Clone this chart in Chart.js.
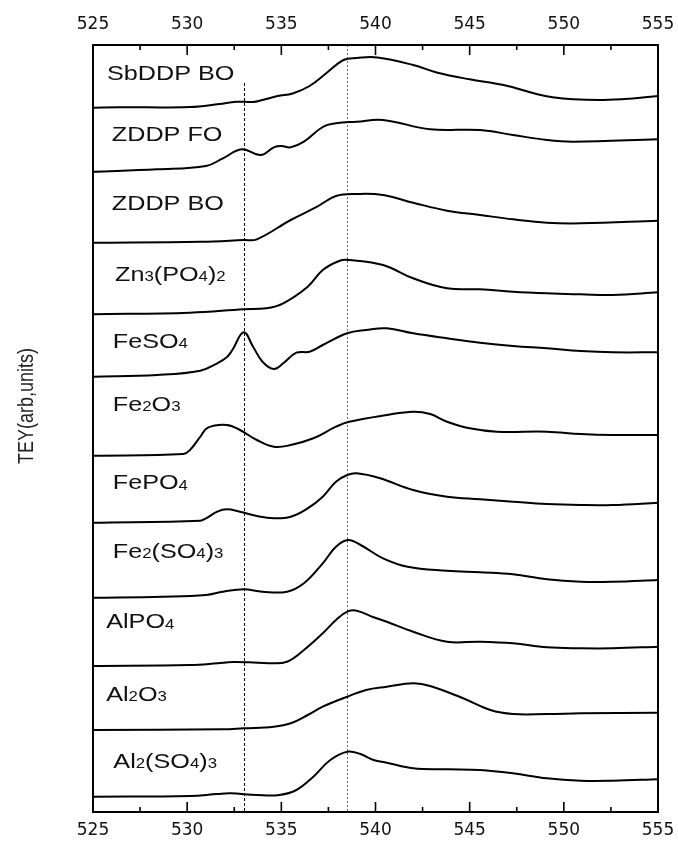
<!DOCTYPE html>
<html><head><meta charset="utf-8">
<script src="https://cdn.jsdelivr.net/npm/chart.js@4.4.1/dist/chart.umd.min.js"></script>
<style>html,body{margin:0;padding:0;background:#fff}</style>
</head><body>
<canvas id="c" width="678" height="842"></canvas>
<script>
// ---- data (energy in eV, TEY in arbitrary offset units) ----
const xTicks = [525, 530, 535, 540, 545, 550, 555];
const yTitle = 'TEY(arb,units)';
const refLinesEnergy = [533, 538.5];
const refLinesTop = [729, 767];

const e_SbDDP_BO = [525, 526.4, 530.15, 531.7, 532.6, 533.5, 534, 534.8, 535.6, 536.5, 537.4, 538.3, 539, 540.1, 542, 543.3, 545, 546.8, 548.6, 549.4, 550.5, 552.1, 553.5, 555];
const tey_SbDDP_BO = [704.3, 704.7, 705, 708, 710.3, 710, 712, 716, 718.5, 726, 739, 752, 754, 754.5, 747, 739.3, 732.7, 727, 717.7, 714.7, 712.7, 712, 713.3, 716];

const e_ZDDP_FO = [525, 528.4, 531, 531.9, 532.9, 533.9, 534.6, 535, 535.5, 536.2, 537.2, 537.9, 539, 540.4, 542.9, 545.55, 547.3, 549.1, 550.5, 555];
const tey_ZDDP_FO = [640.3, 642.7, 646, 653.7, 662.7, 657, 664.7, 666, 664.7, 670.3, 685, 688.7, 690.3, 692, 682.7, 682, 677, 672, 670.3, 672.7];

const e_ZDDP_BO = [525, 530.7, 533, 533.7, 535.5, 536.9, 537.9, 539, 540.4, 542, 543.8, 545.55, 547.3, 549.1, 550.9, 555];
const tey_ZDDP_BO = [569.3, 570.3, 572, 572.7, 592, 605.3, 616, 618, 617, 609.3, 601.3, 597, 592.7, 589.3, 588.7, 591.3];

const e_Zn3PO42 = [525, 530.15, 533, 534.2, 535.1, 536.4, 537.2, 538.1, 538.6, 540.4, 542, 543.8, 545.55, 547.3, 549.1, 550.9, 552.6, 555];
const tey_Zn3PO42 = [497.7, 499.3, 502.7, 503.7, 508.7, 525.3, 542, 551.3, 552, 547, 533.7, 523.7, 522.7, 520.3, 518.7, 517.7, 517, 519.7];

const e_FeSO4 = [525, 528.4, 530.7, 531.6, 532.1, 532.4, 533, 533.5, 534, 534.6, 535.1, 535.8, 536.5, 537.2, 538.5, 539.5, 540.6, 542, 543.8, 545.55, 547.3, 549.1, 550.9, 552.6, 555];
const tey_FeSO4 = [435.3, 437, 441.3, 448.7, 454.7, 462, 479.7, 465.3, 450.3, 443, 448.7, 459.3, 460.3, 467, 478.7, 482, 483.7, 478.7, 473.7, 469.3, 466, 463.7, 461, 459.7, 459.7];

const e_Fe2O3 = [525, 529.8, 530.15, 530.7, 531.1, 532.1, 532.8, 533.7, 534.6, 535.5, 536.7, 537.9, 538.6, 540.6, 542, 542.9, 543.8, 545, 546.45, 549.1, 550.9, 552.6, 555];
const tey_Fe2O3 = [356.3, 358, 362, 375.3, 384.3, 387, 382, 372, 365.3, 367, 373.7, 385.3, 390.3, 397, 400.3, 398, 390.3, 383.7, 380.3, 380.3, 378, 377, 377];

const e_FePO4 = [525, 530.7, 531, 531.6, 532.1, 532.8, 533.7, 534.6, 535.5, 536.4, 537.2, 537.9, 538.5, 539, 540.2, 542, 543.8, 545.55, 547.3, 549.1, 550.9, 552.6, 555];
const tey_FePO4 = [289.3, 291.3, 293.7, 300.3, 302.7, 300.3, 296, 293.7, 295.3, 303.7, 315.3, 330.3, 337, 338.7, 334, 322, 315.3, 312.7, 310.3, 308, 307, 307, 309.3];

const e_Fe2SO43 = [525, 528.7, 531, 531.9, 533, 534, 535.3, 536.2, 537.2, 537.9, 538.55, 539.3, 540.4, 541.7, 543.8, 545.55, 547.3, 549.1, 550.9, 552.6, 555];
const tey_Fe2SO43 = [214.3, 215.3, 217, 220.3, 222.7, 220.3, 220.3, 228.7, 248.7, 265.3, 272, 266, 253.7, 245.3, 241.3, 239.7, 237.7, 232.7, 230.3, 230.3, 232];

const e_AlPO4 = [525, 530.15, 531.6, 532.4, 533.3, 534.4, 535.3, 536.2, 537.2, 537.9, 538.5, 539, 539.9, 540.6, 542, 543.8, 545.55, 547.3, 549.1, 550.9, 552.6, 555];
const tey_AlPO4 = [146, 147, 148.7, 150, 149.7, 148.7, 150.3, 162, 178.7, 192, 200.3, 201.3, 194.7, 190.3, 180.3, 170.3, 170.3, 168.7, 164.7, 163.7, 163.7, 165.3];

const e_Al2O3 = [525, 531.9, 533, 534.6, 535.5, 536.4, 537.2, 538.5, 539.5, 540.6, 542, 542.9, 544.65, 546.1, 547.3, 549.1, 550.9, 555];
const tey_Al2O3 = [82, 82.7, 83.7, 85.3, 88.7, 97, 105.3, 115.3, 122, 125.3, 128.7, 126, 113.7, 102, 98, 98, 98.7, 99.3];

const e_Al2SO43 = [525, 530.15, 531.6, 532.3, 533.7, 534.9, 535.8, 536.7, 537.6, 538.5, 539.2, 539.9, 540.6, 542, 543.8, 545.55, 547.3, 549.1, 550.9, 552.6, 555];
const tey_Al2SO43 = [15.3, 16, 18, 18.7, 17, 17, 22, 35.3, 52, 60.3, 58, 52, 49.3, 43.7, 42.7, 42, 38.7, 33.7, 31.3, 31.3, 32.7];

const seriesNames = ["SbDDP BO", "ZDDP FO", "ZDDP BO", "Zn3(PO4)2", "FeSO4", "Fe2O3", "FePO4", "Fe2(SO4)3", "AlPO4", "Al2O3", "Al2(SO4)3"];
const seriesEnergies = [e_SbDDP_BO, e_ZDDP_FO, e_ZDDP_BO, e_Zn3PO42, e_FeSO4, e_Fe2O3, e_FePO4, e_Fe2SO43, e_AlPO4, e_Al2O3, e_Al2SO43];
const seriesTEY = [tey_SbDDP_BO, tey_ZDDP_FO, tey_ZDDP_BO, tey_Zn3PO42, tey_FeSO4, tey_Fe2O3, tey_FePO4, tey_Fe2SO43, tey_AlPO4, tey_Al2O3, tey_Al2SO43];
// label anchor (energy, TEY) for the left edge / vertical centre of each name
const labelEnergy = [525.74, 526.0, 526.0, 526.17, 526.05, 526.05, 526.05, 526.05, 525.7, 525.7, 526.08];
const labelTEY = [740, 679, 610, 539, 472, 408.7, 330.3, 262, 191.3, 118.7, 52];
// vertical centre (TEY units) of the axis title
const yTitleCentre = 406;

// ---- chart ----
const datasets = seriesNames.map((name, i) => ({
  label: name,
  data: seriesEnergies[i].map((e, j) => ({ x: e, y: seriesTEY[i][j] })),
  borderColor: '#000',
  borderWidth: 2,
  pointRadius: 0,
  fill: false,
  tension: 0.4
}));

const STRETCH = 1.2;
function drawLabel(ctx, text, x, y) {
  const parts = [];
  for (const ch of text) {
    const sub = /[0-9]/.test(ch);
    if (parts.length && parts[parts.length - 1].sub === sub) parts[parts.length - 1].t += ch;
    else parts.push({ t: ch, sub });
  }
  ctx.save();
  ctx.translate(x, y);
  ctx.scale(STRETCH, 1);
  ctx.fillStyle = '#111';
  ctx.textBaseline = 'alphabetic';
  ctx.textAlign = 'left';
  let cx = 0;
  for (const p of parts) {
    ctx.font = p.sub ? '14px "Liberation Sans", Arial, sans-serif' : '21px "Liberation Sans", Arial, sans-serif';
    ctx.fillText(p.t, cx, p.sub ? 8 : 7.5);
    cx += ctx.measureText(p.t).width;
  }
  ctx.restore();
}

const framePlugin = {
  id: 'frame',
  beforeDatasetsDraw(chart) {
    const ctx = chart.ctx, xs = chart.scales.x, ys = chart.scales.y;
    ctx.save();
    refLinesEnergy.forEach((e, i) => {
      const px = Math.round(xs.getPixelForValue(e)) + 0.5;
      ctx.beginPath();
      ctx.setLineDash(i === 0 ? [3, 2] : [2, 2]);
      ctx.strokeStyle = i === 0 ? '#000' : '#666';
      ctx.lineWidth = 1;
      ctx.moveTo(px, ys.getPixelForValue(refLinesTop[i]));
      ctx.lineTo(px, ys.getPixelForValue(0));
      ctx.stroke();
    });
    ctx.restore();
  },
  afterDatasetsDraw(chart) {
    const ctx = chart.ctx, a = chart.chartArea, xs = chart.scales.x, ys = chart.scales.y;
    ctx.save();
    ctx.strokeStyle = '#000';
    ctx.lineWidth = 2;
    ctx.setLineDash([]);
    ctx.strokeRect(a.left, a.top, a.right - a.left, a.bottom - a.top);
    ctx.lineWidth = 1.6;
    for (let k = 0; k < xTicks.length; k++) {
      const v = xTicks[k];
      const px = xs.getPixelForValue(v);
      ctx.beginPath();
      ctx.moveTo(px, a.top); ctx.lineTo(px, a.top + 10);
      ctx.moveTo(px, a.bottom); ctx.lineTo(px, a.bottom - 10);
      ctx.stroke();
      if (k < xTicks.length - 1) {
        const pm = xs.getPixelForValue((v + xTicks[k + 1]) / 2);
        ctx.beginPath();
        ctx.moveTo(pm, a.top); ctx.lineTo(pm, a.top + 5);
        ctx.moveTo(pm, a.bottom); ctx.lineTo(pm, a.bottom - 5);
        ctx.stroke();
      }
    }
    seriesNames.forEach((n, i) => {
      drawLabel(ctx, n, xs.getPixelForValue(labelEnergy[i]), ys.getPixelForValue(labelTEY[i]));
    });
    // y-axis title
    ctx.save();
    ctx.translate(27, ys.getPixelForValue(yTitleCentre));
    ctx.rotate(-Math.PI / 2);
    ctx.scale(1, STRETCH);
    ctx.font = '18px "Liberation Sans", Arial, sans-serif';
    ctx.fillStyle = '#222';
    ctx.textAlign = 'center';
    ctx.textBaseline = 'middle';
    ctx.fillText(yTitle, 0, 0);
    ctx.restore();
    ctx.restore();
  }
};

const tickFont = { family: '"DejaVu Sans", sans-serif', size: 17 };
function noPad(s) { s.paddingLeft = 0; s.paddingRight = 0; }

new Chart(document.getElementById('c'), {
  type: 'line',
  data: { datasets },
  options: {
    responsive: false,
    animation: false,
    devicePixelRatio: 1,
    layout: { padding: { left: 0, right: 20, top: 0, bottom: 0 } },
    plugins: { legend: { display: false }, tooltip: { enabled: false } },
    scales: {
      x: {
        type: 'linear', position: 'bottom', min: 525, max: 555,
        afterBuildTicks(s) { s.ticks = xTicks.map(v => ({ value: v })); },
        afterFit(s) { s.height = 30; noPad(s); },
        grid: { display: false, drawTicks: false },
        border: { display: false },
        ticks: { font: tickFont, color: '#111', padding: 8, maxRotation: 0, autoSkip: false }
      },
      x2: {
        type: 'linear', position: 'top', min: 525, max: 555,
        afterBuildTicks(s) { s.ticks = xTicks.map(v => ({ value: v })); },
        afterFit(s) { s.height = 45; noPad(s); },
        grid: { display: false, drawTicks: false },
        border: { display: false },
        ticks: { font: tickFont, color: '#111', padding: 10, maxRotation: 0, autoSkip: false }
      },
      y: {
        type: 'linear', min: 0, max: 767,
        afterFit(s) { s.width = 93; s.paddingTop = 0; s.paddingBottom = 0; },
        grid: { display: false, drawTicks: false },
        border: { display: false },
        ticks: { display: false },
        title: { display: false }
      }
    }
  },
  plugins: [framePlugin]
});
</script>
</body></html>
